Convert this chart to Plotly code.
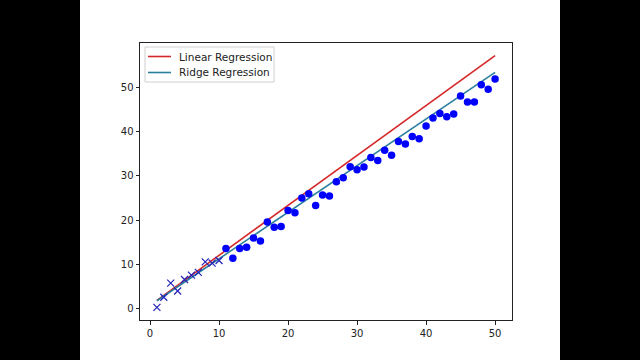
import plotly.graph_objects as go

# Training points (crosses)
x_train = [1, 2, 3, 4, 5, 6, 7, 8, 9, 10]
y_train = [0.3, 2.6, 5.8, 4.0, 6.6, 7.6, 8.2, 10.6, 10.3, 10.9]

# Test points (circles)
x_test = list(range(11, 51))
y_test = [13.6, 11.4, 13.6, 13.9, 16.0, 15.3, 19.6, 18.4, 18.6, 22.2,
          21.7, 25.0, 26.0, 23.3, 25.7, 25.5, 28.7, 29.6, 32.1, 31.4,
          32.0, 34.2, 33.5, 35.8, 34.7, 37.8, 37.2, 38.9, 38.4, 41.3,
          43.1, 44.1, 43.4, 44.0, 48.1, 46.7, 46.7, 50.6, 49.6, 51.9]

# Regression lines (endpoints)
x_line = [1, 50]
y_linear = [1.9, 57.2]
y_ridge = [1.8, 53.4]

x_ticks = [0, 10, 20, 30, 40, 50]
y_ticks = [0, 10, 20, 30, 40, 50]

legend_labels = ["Linear Regression", "Ridge Regression"]
legend_colors = ["#d62728", "#2a7f9e"]

FONT = "DejaVu Sans, sans-serif"

# plot area in pixels
L, R, T, B = 140, 512, 43, 320
W, H = R - L, B - T


def px(x):
    return (x - L) / W


def py(y):
    return 1 - (y - T) / H


fig = go.Figure()
fig.add_trace(go.Scatter(x=x_line, y=y_linear, mode="lines", name=legend_labels[0],
                         line=dict(color=legend_colors[0], width=1.6), showlegend=False))
fig.add_trace(go.Scatter(x=x_line, y=y_ridge, mode="lines", name=legend_labels[1],
                         line=dict(color=legend_colors[1], width=1.6), showlegend=False))
fig.add_trace(go.Scatter(x=x_train, y=y_train, mode="markers", showlegend=False,
                         marker=dict(symbol="x-thin", size=7, color="#2222bb",
                                     line=dict(color="#2222bb", width=1.2))))
fig.add_trace(go.Scatter(x=x_test, y=y_test, mode="markers", showlegend=False,
                         marker=dict(symbol="circle", size=7.5, color="#0000ff",
                                     line=dict(width=0))))

axis_common = dict(showgrid=False, zeroline=False, showline=True, mirror=True,
                   linecolor="#222222", linewidth=1, ticks="outside", ticklen=3.5,
                   tickwidth=0.8, tickcolor="#222222",
                   tickfont=dict(family=FONT, size=10, color="#222222"))

shapes = [dict(type="rect", xref="paper", yref="paper",
               x0=px(80), x1=px(560), y0=py(360), y1=py(0),
               fillcolor="#ffffff", line=dict(width=0), layer="below"),
          # legend frame
          dict(type="rect", xref="paper", yref="paper",
               x0=px(145), x1=px(274), y0=py(82), y1=py(47),
               fillcolor="rgba(255,255,255,0.85)", line=dict(color="#d0d0d0", width=1),
               layer="above")]
annotations = []
for i, (lab, col) in enumerate(zip(legend_labels, legend_colors)):
    yy = 56.5 + 16 * i
    shapes.append(dict(type="line", xref="paper", yref="paper",
                       x0=px(148), x1=px(171), y0=py(yy), y1=py(yy),
                       line=dict(color=col, width=1.6), layer="above"))
    annotations.append(dict(xref="paper", yref="paper", x=px(177), y=py(yy),
                            text=lab, showarrow=False, xanchor="left", yanchor="middle",
                            font=dict(family=FONT, size=10.5, color="#222222")))

fig.update_layout(
    width=640, height=360,
    margin=dict(l=L, r=640 - R, t=T, b=360 - B, autoexpand=False),
    paper_bgcolor="#000000", plot_bgcolor="#ffffff",
    font=dict(family=FONT, color="#222222"),
    xaxis=dict(range=[-1.45, 52.45], tickvals=x_ticks, **axis_common),
    yaxis=dict(range=[-2.55, 60.05], tickvals=y_ticks, **axis_common),
    showlegend=False,
    shapes=shapes,
    annotations=annotations,
)

fig.write_html("out.html", config={"displayModeBar": False},
               post_script="document.body.style.margin='0';")
